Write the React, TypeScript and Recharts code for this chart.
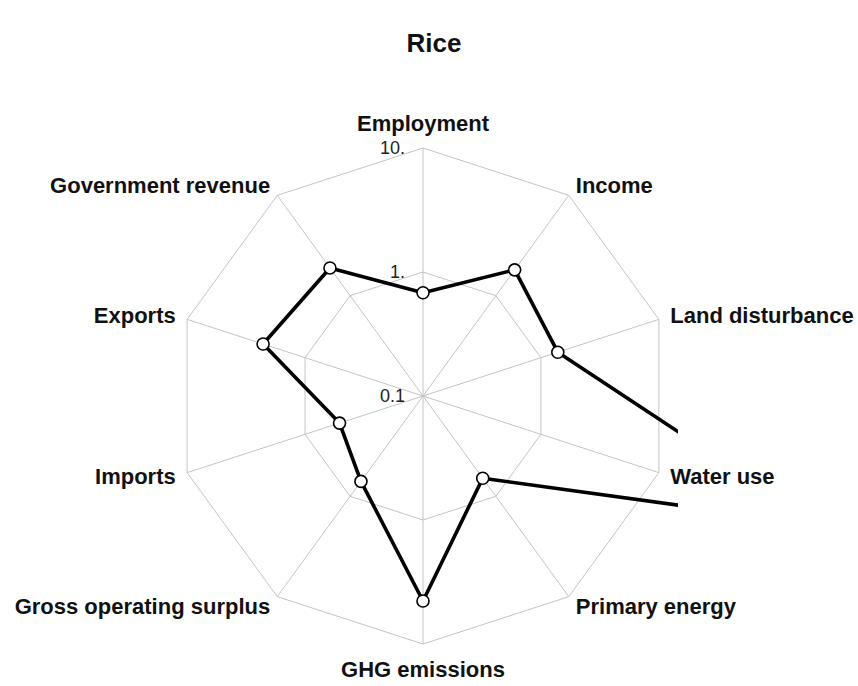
import { RadarChart, Radar, PolarGrid, PolarAngleAxis, PolarRadiusAxis } from "recharts";

// indicators, clockwise from the top
const indicators = [
  "Employment",
  "Income",
  "Land disturbance",
  "Water use",
  "Primary energy",
  "GHG emissions",
  "Gross operating surplus",
  "Imports",
  "Exports",
  "Government revenue",
];

// Rice values (log scale, 0.1 at the centre)
const riceValues = [0.68, 1.81, 1.39, 225, 0.66, 4.5, 0.71, 0.51, 2.27, 1.89];

const radiusTicks = [0.1, 1, 10];
const radiusTickLabels = ["0.1", "1.", "10."];

const CX = 423;
const CY = 396;
const R = 248;
const CLIP = 255;
const FONT = "'Liberation Sans', Arial, Helvetica, sans-serif";

const chartData = indicators.map((name, i) => ({
  name,
  value: Math.log10(riceValues[i]),
}));

function AngleTick(props: any) {
  const { x, y, payload } = props;
  const a = (payload.coordinate * Math.PI) / 180;
  const c = Math.cos(a);
  const s = Math.sin(a);
  const anchor = Math.abs(c) < 0.1 ? "middle" : c > 0 ? "start" : "end";
  let dy = 0;
  if (Math.abs(c) < 0.1) dy = s > 0 ? -13 : 13;
  return (
    <text
      x={x + 4 * c}
      y={y - 4 * s + dy}
      textAnchor={anchor}
      dominantBaseline="central"
      fontFamily={FONT}
      fontWeight="bold"
      fontSize={22}
      fill="#111"
    >
      {payload.value}
    </text>
  );
}

function RadiusTick(props: any) {
  const { x, y, payload } = props;
  const idx = radiusTicks.findIndex((t) => Math.abs(Math.log10(t) - payload.value) < 1e-6);
  return (
    <text
      x={x - 18}
      y={y}
      textAnchor="end"
      dominantBaseline="central"
      fontFamily={FONT}
      fontSize={18}
      fill="#222"
    >
      {idx >= 0 ? radiusTickLabels[idx] : ""}
    </text>
  );
}

function ClippedShape(props: any) {
  const { points } = props;
  const pts = points.map((p: any) => `${p.x},${p.y}`).join(" ");
  return (
    <g>
      <defs>
        <clipPath id="plotRange">
          <rect x={CX - CLIP} y={CY - CLIP} width={CLIP * 2} height={CLIP * 2} />
        </clipPath>
      </defs>
      <g clipPath="url(#plotRange)">
        <polygon points={pts} fill="none" stroke="#000" strokeWidth={3.6} strokeLinejoin="round" />
        {points.map((p: any, i: number) => (
          <circle key={i} cx={p.x} cy={p.y} r={6} fill="#fff" stroke="#000" strokeWidth={1.6} />
        ))}
      </g>
    </g>
  );
}

export default function App() {
  return (
    <div style={{ position: "absolute", left: 0, top: 0, width: 858, height: 686, background: "#fff" }}>
      <div
        style={{
          position: "absolute",
          left: 0,
          top: 30,
          width: 868,
          textAlign: "center",
          fontFamily: FONT,
          fontWeight: "bold",
          fontSize: 26,
          lineHeight: "26px",
          color: "#111",
        }}
      >
        Rice
      </div>
      <RadarChart
        width={858}
        height={686}
        data={chartData}
        cx={CX}
        cy={CY}
        outerRadius={R}
        margin={{ top: 0, right: 0, bottom: 0, left: 0 }}
        startAngle={90}
        endAngle={-270}
      >
        <PolarGrid gridType="polygon" stroke="#c4c4c4" strokeWidth={1} />
        <PolarAngleAxis dataKey="name" tick={<AngleTick />} tickLine={false} axisLine={false} />
        <PolarRadiusAxis
          type="number"
          angle={90}
          orientation="left"
          domain={[-1, 1]}
          ticks={radiusTicks.map((t) => Math.log10(t))}
          allowDataOverflow
          axisLine={false}
          tickLine={false}
          tick={<RadiusTick />}
        />
        <Radar dataKey="value" isAnimationActive={false} dot={false} shape={<ClippedShape />} />
      </RadarChart>
    </div>
  );
}
